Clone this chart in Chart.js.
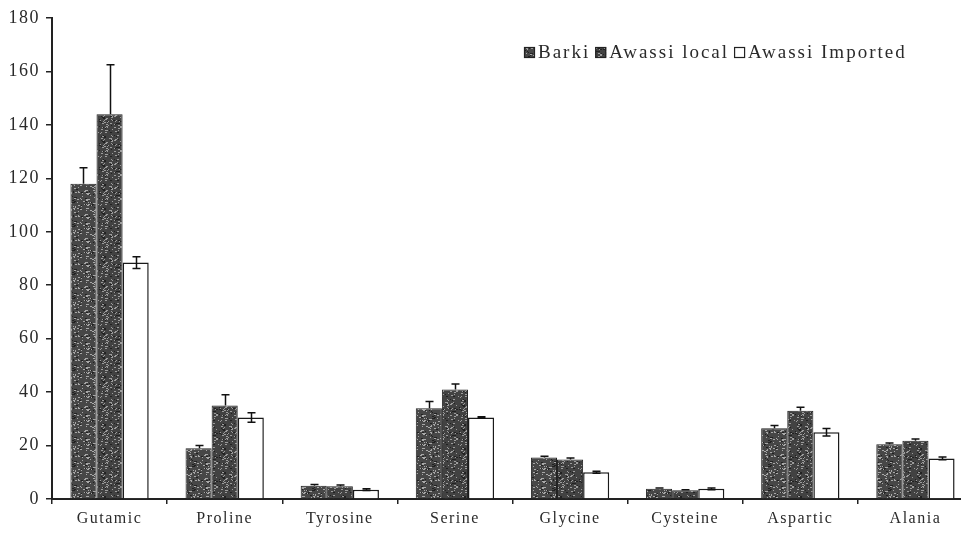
<!DOCTYPE html>
<html>
<head>
<meta charset="utf-8">
<script src="https://cdn.jsdelivr.net/npm/chart.js@4/dist/chart.umd.min.js"></script>
<style>
    html, body { margin: 0; padding: 0; background: #fff; overflow: hidden; }
    #wrap { position: absolute; left: 0; top: 0; width: 975px; height: 538px; }
</style>
</head>
<body>
<div id="wrap"><canvas id="acidChart" width="975" height="538"></canvas></div>
<script>
// Amino acids (mg / 100 g) for the three sheep groups
const categories = ['Gutamic', 'Proline', 'Tyrosine', 'Serine', 'Glycine', 'Cysteine', 'Aspartic', 'Alania'];

const barki = [118, 19, 5, 34, 15.5, 3.8, 26.5, 20.5];
const barkiErr = [6, 1, 0.4, 2.5, 0.5, 0.3, 1, 0.5];

const awassiLocal = [144, 35, 4.8, 41, 14.8, 3.3, 33, 21.8];
const awassiLocalErr = [18.5, 4, 0.4, 2, 0.5, 0.2, 1.3, 0.7];

const awassiImported = [88.5, 30.5, 3.5, 30.5, 10, 3.8, 25, 15.2];
const awassiImportedErr = [2.2, 1.8, 0.3, 0.3, 0.4, 0.3, 1.4, 0.5];

const yMin = 0, yMax = 180, yStep = 20;

const FONT = '"Liberation Serif", "Times New Roman", serif';
const INK = '#2a2a2a';

// speckled grey fill, like a stippled print
function speckle(base, dot, seed) {
    const c = document.createElement('canvas');
    c.width = 24; c.height = 24;
    const g = c.getContext('2d');
    g.fillStyle = base;
    g.fillRect(0, 0, 24, 24);
    let s = seed;
    const next = () => { s = (s * 1103515245 + 12345) % 2147483648; return s / 2147483648; };
    for (let i = 0; i < 90; i++) {
        const x = Math.floor(next() * 24), y = Math.floor(next() * 24);
        g.fillStyle = next() > 0.35 ? dot : '#222';
        g.fillRect(x, y, next() > 0.5 ? 2 : 1, 1);
    }
    return g.createPattern(c, 'repeat');
}

const ctx = document.getElementById('acidChart').getContext('2d');

const errorsByDataset = [barkiErr, awassiLocalErr, awassiImportedErr];

// keeps the spaced-out serif look on every text draw
const spacing = {
    id: 'spacing',
    beforeUpdate(chart) { chart.ctx.letterSpacing = '1.5px'; },
    beforeDraw(chart) { chart.ctx.letterSpacing = '1.5px'; }
};

// error bars; the lower arm only shows on the open (white) bars
const errorBars = {
    id: 'errorBars',
    afterDatasetsDraw(chart) {
        const c = chart.ctx;
        const y = chart.scales.y;
        c.save();
        c.strokeStyle = '#111';
        c.lineWidth = 1.5;
        chart.data.datasets.forEach((ds, di) => {
            const meta = chart.getDatasetMeta(di);
            const open = ds.backgroundColor === '#ffffff';
            meta.data.forEach((bar, i) => {
                const err = errorsByDataset[di][i];
                const v = ds.data[i];
                const top = y.getPixelForValue(v + err);
                const bot = open ? y.getPixelForValue(v - err) : y.getPixelForValue(v);
                const x = Math.round(bar.x) + 0.5;
                c.beginPath();
                c.moveTo(x, top); c.lineTo(x, bot);
                c.moveTo(x - 4, top); c.lineTo(x + 4, top);
                if (open) { c.moveTo(x - 4, bot); c.lineTo(x + 4, bot); }
                c.stroke();
            });
        });
        c.restore();
    }
};

// single-row legend in the upper right
const boxLegend = {
    id: 'boxLegend',
    afterDraw(chart) {
        const c = chart.ctx;
        c.save();
        c.letterSpacing = '2px';
        c.font = '19px ' + FONT;
        c.textBaseline = 'middle';
        let x = 524;
        const y = 53;
        chart.data.datasets.forEach(ds => {
            c.fillStyle = ds.backgroundColor;
            c.fillRect(x, y - 6, 11, 11);
            c.strokeStyle = '#222';
            c.lineWidth = 1.2;
            c.strokeRect(x + 0.5, y - 5.5, 10, 10);
            x += 14;
            c.fillStyle = INK;
            c.fillText(ds.label, x, y);
            x += c.measureText(ds.label).width + 5;
        });
        c.restore();
    }
};

new Chart(ctx, {
    type: 'bar',
    data: {
        labels: categories,
        datasets: [
            { label: 'Barki', data: barki, backgroundColor: speckle('#474747', '#a8a8a8', 7), borderColor: '#222', borderWidth: 1 },
            { label: 'Awassi local', data: awassiLocal, backgroundColor: speckle('#424242', '#9c9c9c', 31), borderColor: '#222', borderWidth: 1 },
            { label: 'Awassi Imported', data: awassiImported, backgroundColor: '#ffffff', borderColor: '#1a1a1a', borderWidth: 1.5 }
        ]
    },
    options: {
        responsive: false,
        devicePixelRatio: 1,
        animation: false,
        layout: { padding: { top: 18, right: 2, left: 0, bottom: 0 } },
        datasets: { bar: { categoryPercentage: 0.68, barPercentage: 1 } },
        plugins: { legend: { display: false }, tooltip: { enabled: false } },
        scales: {
            x: {
                grid: { display: true, drawOnChartArea: false, drawTicks: true, tickLength: 5, color: '#222', lineWidth: 1.5 },
                border: { display: true, color: '#222', width: 2 },
                ticks: { color: INK, font: { family: FONT, size: 16 }, padding: 5, maxRotation: 0 },
                afterFit(scale) { scale.height = 39; }
            },
            y: {
                min: yMin,
                max: yMax,
                ticks: { stepSize: yStep, color: INK, font: { family: FONT, size: 18 }, padding: 6 },
                grid: { display: true, drawOnChartArea: false, drawTicks: true, tickLength: 6, color: '#222', lineWidth: 1.5 },
                border: { display: true, color: '#222', width: 2 },
                afterFit(scale) { scale.width = 52; }
            }
        }
    },
    plugins: [spacing, errorBars, boxLegend]
});
</script>
</body>
</html>
